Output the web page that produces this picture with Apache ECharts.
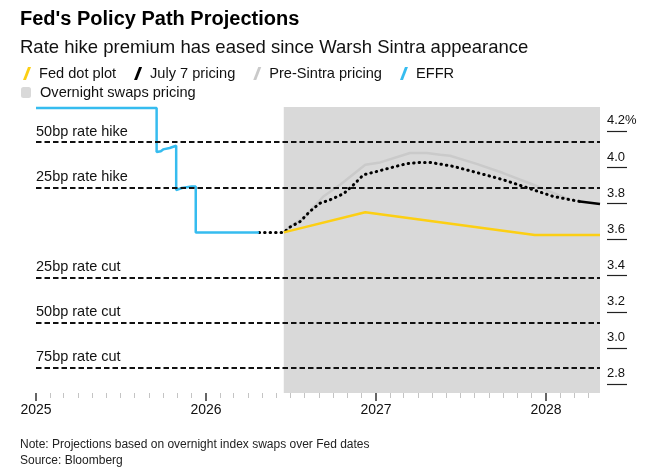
<!DOCTYPE html>
<html>
<head>
<meta charset="utf-8">
<script src="https://cdn.jsdelivr.net/npm/echarts@6/dist/echarts.min.js"></script>
<style>
  html, body { margin: 0; padding: 0; background: #fff; }
  #chart { width: 666px; height: 475px; }
</style>
</head>
<body>
<div id="chart"></div>
<script type="text/javascript">
// 数据：近似值
var effr = [
  ['2025-01-01', 4.33], ['2025-09-17', 4.33], ['2025-09-17', 4.086],
  ['2025-09-26', 4.09], ['2025-10-01', 4.10], ['2025-10-15', 4.108],
  ['2025-10-29', 4.12], ['2025-10-29', 3.875], ['2025-11-10', 3.886],
  ['2025-12-01', 3.894], ['2025-12-10', 3.894], ['2025-12-10', 3.64],
  ['2026-04-25', 3.64]
];
var july7 = [
  ['2026-04-25', 3.64], ['2026-06-17', 3.64], ['2026-06-30', 3.669],
  ['2026-07-22', 3.70], ['2026-08-12', 3.756], ['2026-09-03', 3.802],
  ['2026-09-24', 3.82], ['2026-10-23', 3.854], ['2026-11-10', 3.894],
  ['2026-12-05', 3.959], ['2027-01-03', 3.978], ['2027-02-07', 4.002],
  ['2027-03-08', 4.021], ['2027-04-06', 4.028], ['2027-04-27', 4.028],
  ['2027-05-15', 4.02], ['2027-06-16', 4.006], ['2027-08-05', 3.972],
  ['2027-10-01', 3.932], ['2027-12-05', 3.876], ['2028-01-17', 3.839],
  ['2028-03-14', 3.811]
];
var july7Tail = [['2028-03-14', 3.811], ['2028-04-26', 3.797]];
var preSintra = [
  ['2026-06-17', 3.64], ['2026-06-30', 3.67], ['2026-07-29', 3.719],
  ['2026-09-10', 3.839], ['2026-10-16', 3.904], ['2026-12-09', 4.015],
  ['2027-01-10', 4.028], ['2027-03-15', 4.08], ['2027-04-20', 4.08],
  ['2027-05-19', 4.07], ['2027-06-09', 4.065], ['2027-08-05', 4.02],
  ['2027-10-01', 3.969], ['2027-12-05', 3.904], ['2028-02-22', 3.82]
];
var dotPlot = [
  ['2026-06-17', 3.64], ['2026-12-09', 3.752], ['2027-12-08', 3.626], ['2028-04-26', 3.626]
];
var swapsStart = '2026-06-17';
var xMin = '2025-01-01';
var xMax = '2028-04-26';
var levelNames = ['50bp rate hike', '25bp rate hike', '25bp rate cut', '50bp rate cut', '75bp rate cut'];
var levelValues = [4.14, 3.89, 3.39, 3.14, 2.89];
var yTicks = [2.8, 3.0, 3.2, 3.4, 3.6, 3.8, 4.0, 4.2];
var yearTicks = ['2025-01-01', '2026-01-01', '2027-01-01', '2028-01-01'];

// 月度小刻度位置
var monthTicks = [];
for (var y = 2025; y <= 2028; y++) {
  for (var m = 2; m <= 12; m++) {
    var d = y + '-' + (m < 10 ? '0' + m : m) + '-01';
    if (d <= xMax) monthTicks.push(d);
  }
}

var font = '"Liberation Sans", Arial, sans-serif';
var slash = 'path://M5,0 L8,0 L3,13 L0,13 Z';

var chart = echarts.init(document.getElementById('chart'));
var option = {
  animation: false,
  textStyle: { fontFamily: font },
  title: [
    { text: "Fed's Policy Path Projections", left: 20, top: 9, padding: 0,
      textStyle: { fontFamily: font, fontSize: 20, fontWeight: 'bold', color: '#000' } },
    { text: 'Rate hike premium has eased since Warsh Sintra appearance', left: 20, top: 38, padding: 0,
      textStyle: { fontFamily: font, fontSize: 18.5, fontWeight: 'normal', color: '#111' } },
    { text: 'Note: Projections based on overnight index swaps over Fed dates\nSource: Bloomberg',
      left: 20, top: 437, padding: 0,
      textStyle: { fontFamily: font, fontSize: 12, fontWeight: 'normal', color: '#222', lineHeight: 16 } }
  ],
  legend: [
    { data: ['Fed dot plot', 'July 7 pricing', 'Pre-Sintra pricing', 'EFFR'],
      left: 23, top: 66, padding: 0, itemWidth: 14, itemHeight: 13, itemGap: 18,
      icon: slash, itemStyle: { borderWidth: 0 }, selectedMode: false,
      textStyle: { fontFamily: font, fontSize: 14.6, color: '#111' } },
    { data: ['Overnight swaps pricing'],
      left: 21, top: 85, padding: 0, itemWidth: 10, itemHeight: 11,
      icon: 'roundRect', itemStyle: { borderWidth: 0 }, selectedMode: false,
      textStyle: { fontFamily: font, fontSize: 14.6, color: '#111', padding: [0, 0, 0, 4] } }
  ],
  grid: { left: 36, right: 66, top: 107, bottom: 82 },
  xAxis: [
    { type: 'time', min: xMin, max: xMax,
      axisLine: { show: false }, splitLine: { show: false },
      axisTick: { show: true, customValues: yearTicks, length: 8, lineStyle: { color: '#333', width: 1.5 } },
      axisLabel: { customValues: yearTicks, formatter: '{yyyy}', margin: 10, fontSize: 14, color: '#111',
        fontFamily: font } },
    { type: 'time', min: xMin, max: xMax, position: 'bottom',
      axisLine: { show: false }, splitLine: { show: false },
      axisTick: { show: true, customValues: monthTicks, length: 5, lineStyle: { color: '#c4c4c4', width: 1 } },
      axisLabel: { show: false } }
  ],
  yAxis: {
    type: 'value', position: 'right', min: 2.75, max: 4.335, offset: 7,
    axisLine: { show: false }, splitLine: { show: false },
    axisTick: { show: true, customValues: yTicks, length: 20, lineStyle: { color: '#222', width: 1.2 } },
    axisLabel: {
      customValues: yTicks, margin: 0, align: 'left', verticalAlign: 'bottom',
      padding: [0, 0, 4, 0], fontSize: 13, color: '#111', fontFamily: font,
      formatter: function (v) { return v > 4.15 ? v.toFixed(1) + '%' : v.toFixed(1); }
    }
  },
  series: [
    {
      name: 'Overnight swaps pricing', type: 'line', data: [], z: 1,
      color: '#d9d9d9', symbol: 'none',
      markArea: {
        silent: true,
        itemStyle: { color: '#d9d9d9' },
        data: [[{ xAxis: swapsStart }, { xAxis: xMax }]]
      },
      markLine: {
        silent: true, symbol: 'none',
        lineStyle: { color: '#111', width: 2, type: [5.5, 3] },
        label: {
          position: 'insideStartTop', distance: [0, 3], fontSize: 14.5, color: '#111',
          fontFamily: font, formatter: function (p) { return p.name; }
        },
        data: levelValues.map(function (v, i) { return { name: levelNames[i], yAxis: v }; })
      }
    },
    {
      name: 'Pre-Sintra pricing', type: 'line', data: preSintra, z: 2,
      color: '#cacaca', symbol: 'none', lineStyle: { width: 2.5, color: '#cacaca' }
    },
    {
      name: 'July 7 pricing', type: 'line', data: july7, z: 3,
      color: '#000', symbol: 'none',
      lineStyle: { width: 3, color: '#000', type: [0.5, 5], cap: 'round' }
    },
    {
      name: 'July 7 pricing', type: 'line', data: july7Tail, z: 3,
      color: '#000', symbol: 'none', lineStyle: { width: 2.5, color: '#000' }
    },
    {
      name: 'Fed dot plot', type: 'line', data: dotPlot, z: 4,
      color: '#fccf14', symbol: 'none', lineStyle: { width: 2.5, color: '#fccf14' }
    },
    {
      name: 'EFFR', type: 'line', data: effr, z: 4,
      color: '#36bcef', symbol: 'none', lineStyle: { width: 2.5, color: '#36bcef' }
    }
  ]
};
chart.setOption(option);
</script>
</body>
</html>
